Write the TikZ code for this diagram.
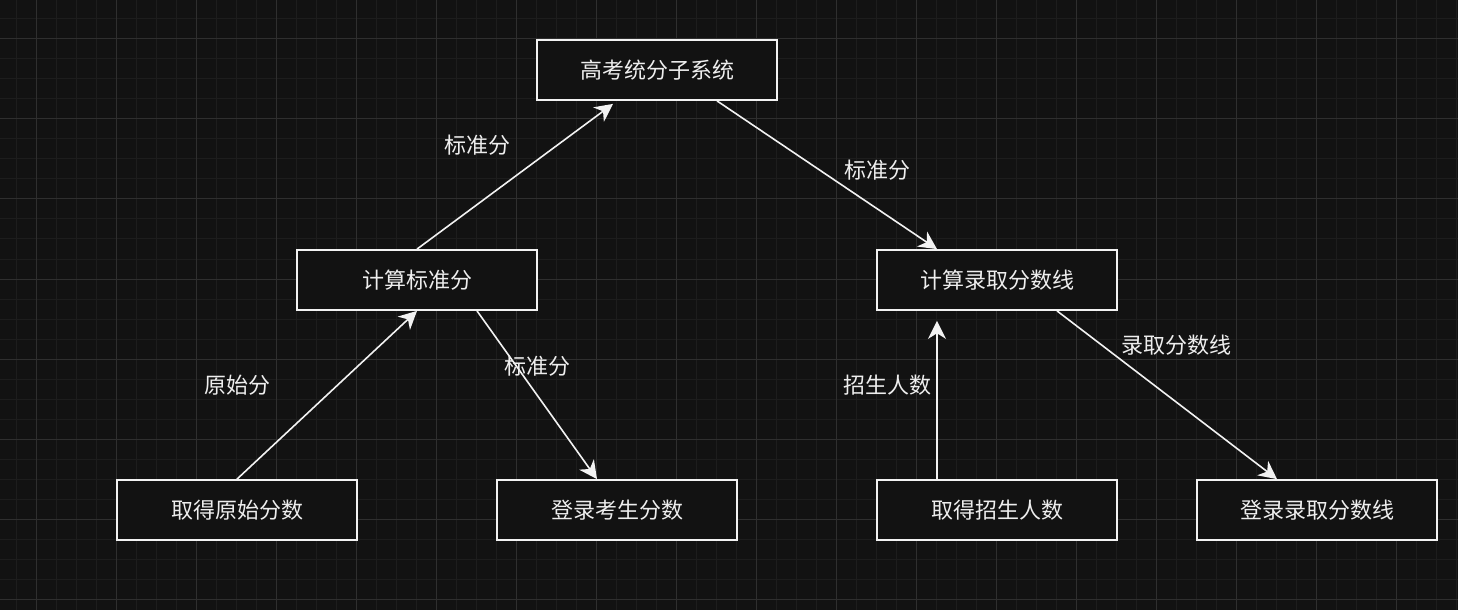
\documentclass[tikz,border=0pt]{standalone}
\usepackage{fontspec}
\usepackage{xcolor}
\usepackage{tikz}
\usetikzlibrary{arrows.meta,positioning,calc}
\newfontfamily\cjk{Noto Sans CJK SC}
\definecolor{cBg}{HTML}{121212}
\definecolor{cGridMin}{HTML}{1D1D1D}
\definecolor{cGridMaj}{HTML}{2F2F2F}
\definecolor{cBoxF}{HTML}{121212}
\definecolor{cLine}{HTML}{F2F2F2}
\definecolor{cText}{HTML}{EEEEEE}
\tikzset{
  gkbox/.style={draw=cLine,fill=cBoxF,line width=0.9pt,minimum width=120pt,
      minimum height=30pt,inner sep=0pt,text=cText,
      font=\cjk\fontsize{11}{12}\selectfont},
  gkarr/.style={-{Stealth[length=9pt,width=9pt,inset=2.8pt]},draw=cLine,
      line width=0.8pt},
  gklab/.style={text=cText,inner sep=1pt,font=\cjk\fontsize{11}{12}\selectfont},
}
\newcommand{\gknode}[4]{\node[gkbox] (#1) at (#2,#3) {#4};}
\newcommand{\gktext}[4]{\node[gklab] (#1) at (#2,#3) {#4};}

\begin{document}
\begin{tikzpicture}[x=0.5pt,y=-0.5pt]
  \fill[cBg] (0,0) rectangle (1458,610);
  \useasboundingbox (0,0) rectangle (1458,610);
  % grid
  \foreach \gx in {16,36,...,1456} \draw[cGridMin,line width=0.5pt] (\gx,0) -- (\gx,610);
  \foreach \gy in {19,39,...,609} \draw[cGridMin,line width=0.5pt] (0,\gy) -- (1458,\gy);
  \foreach \gx in {36,116,...,1456} \draw[cGridMaj,line width=0.5pt] (\gx,0) -- (\gx,610);
  \foreach \gy in {39,119,...,609} \draw[cGridMaj,line width=0.5pt] (0,\gy) -- (1458,\gy);

  \gknode{sys}{657}{70}{高考统分子系统}
  \gknode{std}{417}{280}{计算标准分}
  \gknode{lim}{997}{280}{计算录取分数线}
  \gknode{raw}{237}{510}{取得原始分数}
  \gknode{reg}{617}{510}{登录考生分数}
  \gknode{plan}{997}{510}{取得招生人数}
  \gknode{regl}{1317}{510}{登录录取分数线}

  \draw[gkarr] (std.north) -- ([xshift=-22pt,yshift=-1.5pt]sys.south);
  \draw[gkarr] ([xshift=30pt]sys.south) -- ([xshift=-30pt]lim.north);
  \draw[gkarr] (raw.north) -- (std.south);
  \draw[gkarr] ([xshift=30pt]std.south) -- ([xshift=-10pt]reg.north);
  \draw[gkarr] ([xshift=-30pt]plan.north) -- ([xshift=-30pt,yshift=-5pt]lim.south);
  \draw[gkarr] ([xshift=30pt]lim.south) -- ([xshift=-20pt]regl.north);

  \gktext{l1}{477}{145}{标准分}
  \gktext{l2}{877}{170}{标准分}
  \gktext{l3}{237}{385}{原始分}
  \gktext{l4}{537}{366}{标准分}
  \gktext{l5}{887}{385}{招生人数}
  \gktext{l6}{1176}{345}{录取分数线}
\end{tikzpicture}
\end{document}
